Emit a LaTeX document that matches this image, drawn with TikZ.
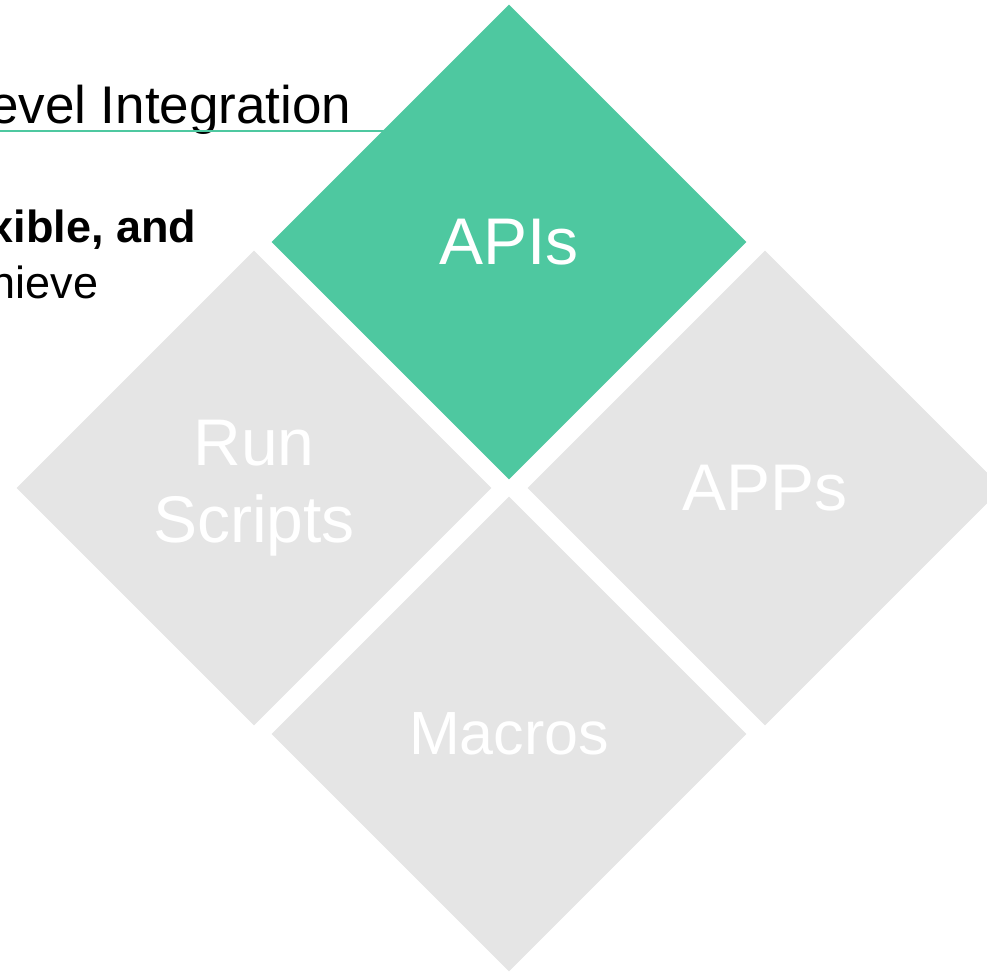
\documentclass[tikz,border=0pt]{standalone}
\usepackage{fontspec}
\setmainfont{Liberation Sans}
\usetikzlibrary{shapes.geometric}
\definecolor{mint}{RGB}{78,200,160}
\definecolor{fog}{RGB}{229,229,229}
\tikzset{
  tile/.style={diamond,fill=#1,inner sep=0pt,minimum width=475pt,minimum height=475pt,
    text=white,align=center},
  tile/.default=fog,
  heading/.style={anchor=base east,font=\fontsize{53}{60}\selectfont},
  blurb/.style={anchor=base east,font=\fontsize{45}{52}\selectfont#1},
  blurb/.default=,
}
\begin{document}
\begin{tikzpicture}[x=1pt,y=-1pt]
  \clip (0,0) rectangle (987,972);
  % cut-off heading and text on the left
  \node[heading] (title) at (355,123) {evel Integration};
  \draw[mint,line width=1.5pt] (0,131) -- (400,131);
  \node[blurb=\bfseries] (line1) at (200,242) {xible, and};
  \node[blurb] (line2) at (102,298) {hieve};
  % the four tiles
  \foreach \n/\x/\y/\c/\s/\t in {run/254/488/fog/66/{Run\\Scripts},apps/765/488/fog/66/APPs,
    macros/509/734/fog/61/Macros,apis/509/242/mint/66/APIs}
    \node[tile=\c,font=\fontsize{\s}{77}\selectfont] (\n) at (\x,\y) {\t};
\end{tikzpicture}
\end{document}
